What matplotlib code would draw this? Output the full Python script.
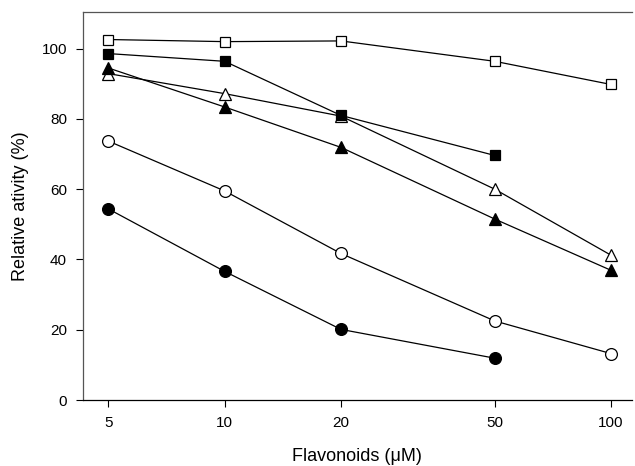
import matplotlib
matplotlib.use("Agg")
import matplotlib.pyplot as plt

plt.rcParams['font.family'] = ['Liberation Sans', 'DejaVu Sans']

conc = [5, 10, 20, 50, 100]
open_square = [102.6, 102.0, 102.2, 96.4, 89.8]
filled_square = [98.6, 96.4, 81.0, 69.6]
filled_triangle = [94.5, 83.4, 71.9, 51.5, 36.9]
open_triangle = [92.9, 87.2, 80.8, 60.0, 41.2]
open_circle = [73.7, 59.5, 41.7, 22.5, 13.2]
filled_circle = [54.4, 36.6, 20.1, 11.9]
xticks = [5, 10, 20, 50, 100]
yticks = [0, 20, 40, 60, 80, 100]

fig = plt.figure(figsize=(6.35, 4.66), dpi=100)
ax = fig.add_axes([0.1307, 0.1416, 0.864, 0.8324])

series = [
    (conc, open_triangle, '^', 'white', 8.5),
    (conc, filled_triangle, '^', 'black', 8.5),
    (conc, open_square, 's', 'white', 7.5),
    (conc[:4], filled_square, 's', 'black', 7.5),
    (conc, open_circle, 'o', 'white', 8.5),
    (conc[:4], filled_circle, 'o', 'black', 8.5),
]
for x, y, m, fc, ms in series:
    ax.plot(x, y, color='black', lw=0.9, marker=m, markersize=ms,
            markerfacecolor=fc, markeredgecolor='black', markeredgewidth=0.9)

ax.set_xscale('log')
ax.set_xlim(4.3, 113)
ax.set_ylim(0, 110.4)
ax.set_xticks(xticks)
ax.set_xticklabels([str(t) for t in xticks])
ax.minorticks_off()
ax.set_yticks(yticks)
ax.tick_params(direction='out', length=5, width=0.8, labelsize=11, pad=6.5)
ax.spines['right'].set_visible(False)
for s in ['left', 'bottom', 'top']:
    ax.spines[s].set_linewidth(0.9)
ax.spines['left'].set_color('#555555')
ax.spines['top'].set_color('#555555')

ax.set_xlabel('Flavonoids (\u03bcM)', fontsize=13, labelpad=13)
ax.set_ylabel('Relative ativity (%)', fontsize=13, labelpad=9)

fig.savefig('out.png', dpi=100)
